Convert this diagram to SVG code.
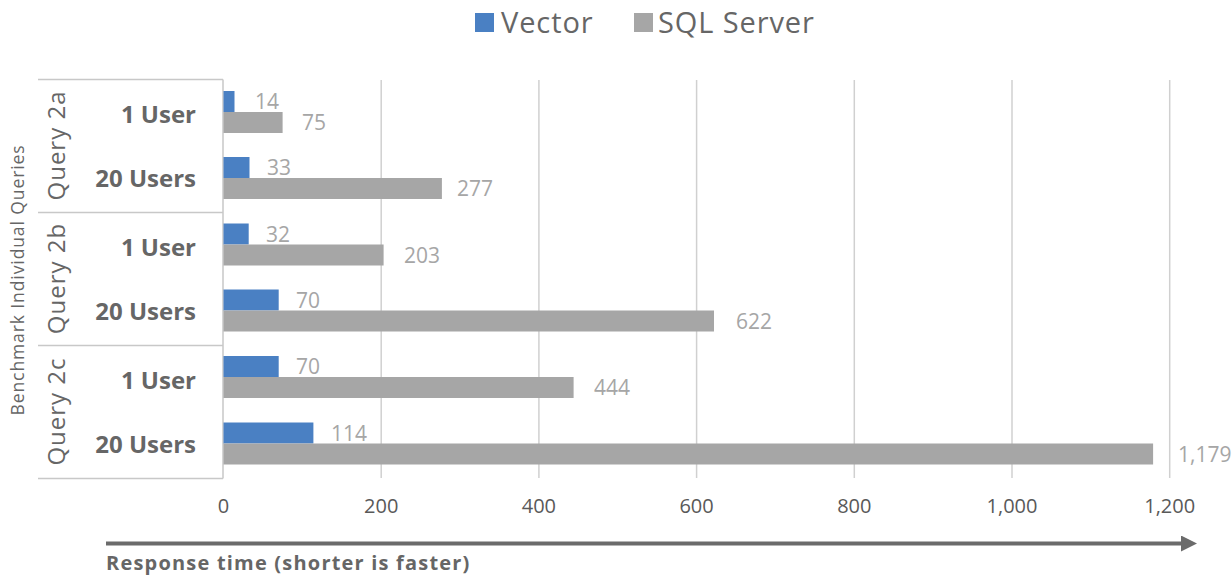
<svg xmlns="http://www.w3.org/2000/svg" width="1232" height="575" viewBox="0 0 1232 575">
<style>
text{font-family:"Open Sans","Liberation Sans",sans-serif}
.grid{stroke:#d0d0d0;stroke-width:1.5}
.box{stroke:#c8c8c8;stroke-width:1.5;fill:none}
.vec{fill:#4a80c3}
.sql{fill:#a6a6a6}
.val{font-size:21px;fill:#a6a6a6}
.tick{font-size:20px;fill:#595959;text-anchor:middle}
.cat{font-size:24px;font-weight:bold;fill:#666;text-anchor:end}
.grp{font-size:24px;fill:#666;text-anchor:middle;letter-spacing:1px}
.leg{font-size:29px;fill:#666;letter-spacing:0.9px}
</style>
<defs>
<marker id="ah" markerWidth="4" markerHeight="4" refX="0" refY="2" orient="auto" markerUnits="strokeWidth">
<path d="M0,0 L4,2 L0,4 Z" fill="#6b6b6b"/>
</marker>
</defs>
<g id="legend">
<rect x="475" y="13" width="19" height="19" class="vec"/>
<text x="501" y="33" class="leg">Vector</text>
<rect x="634" y="13" width="19" height="19" class="sql"/>
<text x="658" y="33" class="leg">SQL Server</text>
</g>
<g id="gridlines">
<line x1="381.2" y1="80" x2="381.2" y2="478" class="grid"/>
<line x1="538.9" y1="80" x2="538.9" y2="478" class="grid"/>
<line x1="696.6" y1="80" x2="696.6" y2="478" class="grid"/>
<line x1="854.3" y1="80" x2="854.3" y2="478" class="grid"/>
<line x1="1012" y1="80" x2="1012" y2="478" class="grid"/>
<line x1="1169.7" y1="80" x2="1169.7" y2="478" class="grid"/>
</g>
<g id="category-axis">
<path d="M38,79.5 H223 M38,212.5 H223 M38,345.5 H223 M38,478.5 H223 M223,79.5 V478.5" class="box"/>
<text transform="translate(65,145.5) rotate(-90)" class="grp">Query 2a</text>
<text transform="translate(65,278.5) rotate(-90)" class="grp">Query 2b</text>
<text transform="translate(65,411.5) rotate(-90)" class="grp">Query 2c</text>
<text transform="translate(24,280) rotate(-90)" style="font-size:17.5px;fill:#666;text-anchor:middle;letter-spacing:0.9px">Benchmark Individual Queries</text>
<text x="196" y="123" class="cat">1 User</text>
<text x="196" y="187" class="cat">20 Users</text>
<text x="196" y="256" class="cat">1 User</text>
<text x="196" y="320" class="cat">20 Users</text>
<text x="196" y="389" class="cat">1 User</text>
<text x="196" y="453" class="cat">20 Users</text>
</g>
<g id="bars">
<rect x="223.5" y="91" width="11" height="21" class="vec"/>
<rect x="223.5" y="112" width="59.1" height="21" class="sql"/>
<rect x="223.5" y="157" width="26" height="21" class="vec"/>
<rect x="223.5" y="178" width="218.4" height="21" class="sql"/>
<rect x="223.5" y="223.5" width="25.2" height="21" class="vec"/>
<rect x="223.5" y="244.5" width="160.1" height="21" class="sql"/>
<rect x="223.5" y="289.5" width="55.2" height="21" class="vec"/>
<rect x="223.5" y="310.5" width="490.5" height="21" class="sql"/>
<rect x="223.5" y="356" width="55.2" height="21" class="vec"/>
<rect x="223.5" y="377" width="350.1" height="21" class="sql"/>
<rect x="223.5" y="422.5" width="89.9" height="21" class="vec"/>
<rect x="223.5" y="443.5" width="929.6" height="21" class="sql"/>
</g>
<g id="value-labels">
<text x="255" y="109" class="val">14</text>
<text x="302" y="130" class="val">75</text>
<text x="267" y="175" class="val">33</text>
<text x="457" y="196" class="val">277</text>
<text x="266" y="241.5" class="val">32</text>
<text x="404" y="262.5" class="val">203</text>
<text x="296" y="307.5" class="val">70</text>
<text x="736" y="328.5" class="val">622</text>
<text x="296" y="374" class="val">70</text>
<text x="594" y="395" class="val">444</text>
<text x="331" y="440.5" class="val">114</text>
<text x="1178" y="461.5" class="val">1,179</text>
</g>
<g id="value-axis">
<text x="223.5" y="513" class="tick">0</text>
<text x="381.2" y="513" class="tick">200</text>
<text x="538.9" y="513" class="tick">400</text>
<text x="696.6" y="513" class="tick">600</text>
<text x="854.3" y="513" class="tick">800</text>
<text x="1012" y="513" class="tick">1,000</text>
<text x="1169.7" y="513" class="tick">1,200</text>
</g>
<g id="connectors">
<line x1="106" y1="543.5" x2="1181" y2="543.5" stroke="#6b6b6b" stroke-width="4" marker-end="url(#ah)"/>
</g>
<text x="106" y="570" style="font-size:20px;font-weight:bold;fill:#666;letter-spacing:1.2px">Response time (shorter is faster)</text>
</svg>
